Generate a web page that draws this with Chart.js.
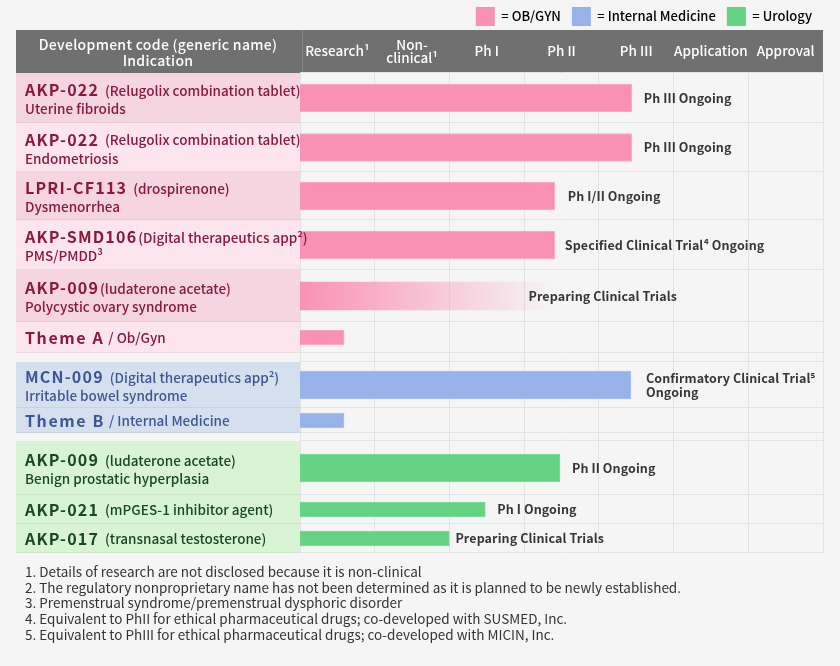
<!DOCTYPE html>
<html>
<head>
<meta charset="utf-8">
<script src="https://cdn.jsdelivr.net/npm/chart.js@4.4.1/dist/chart.umd.min.js"></script>
<style>
  html, body { margin: 0; padding: 0; background: #f5f5f5; }
</style>
</head>
<body>
<canvas id="pipeline-chart" width="840" height="666"></canvas>
<script>
/* ===================================
   DATA
   =================================== */
const stages = ['Research¹', ['Non-', 'clinical¹'], 'Ph I', 'Ph II', 'Ph III', 'Application', 'Approval'];
const areaNames = ['OB/GYN', 'Internal Medicine', 'Urology'];

const codes = ['AKP-022', 'AKP-022', 'LPRI-CF113', 'AKP-SMD106', 'AKP-009', 'Theme A',
  'MCN-009', 'Theme B', 'AKP-009', 'AKP-021', 'AKP-017'];
const genericNames = ['(Relugolix combination tablet)', '(Relugolix combination tablet)', '(drospirenone)',
  '(Digital therapeutics app²)', '(ludaterone acetate)', '/ Ob/Gyn',
  '(Digital therapeutics app²)', '/ Internal Medicine',
  '(ludaterone acetate)', '(mPGES-1 inhibitor agent)', '(transnasal testosterone)'];
const indications = ['Uterine fibroids', 'Endometriosis', 'Dysmenorrhea', 'PMS/PMDD³', 'Polycystic ovary syndrome', '',
  'Irritable bowel syndrome', '', 'Benign prostatic hyperplasia', '', ''];
const areas = ['OB/GYN', 'OB/GYN', 'OB/GYN', 'OB/GYN', 'OB/GYN', 'OB/GYN',
  'Internal Medicine', 'Internal Medicine', 'Urology', 'Urology', 'Urology'];
// progress measured in stage columns (0 = start of Research, 7 = end of Approval)
const progress = [4.44, 4.44, 3.41, 3.41, 3.38, 0.59, 4.43, 0.59, 3.48, 2.48, 2.0];
const statuses = ['Ph III Ongoing', 'Ph III Ongoing', 'Ph I/II Ongoing', 'Specified Clinical Trial⁴ Ongoing',
  'Preparing Clinical Trials', '', 'Confirmatory Clinical Trial⁵\nOngoing', '',
  'Ph II Ongoing', 'Ph I Ongoing', 'Preparing Clinical Trials'];
const footnotes = [
  '1. Details of research are not disclosed because it is non-clinical',
  '2. The regulatory nonproprietary name has not been determined as it is planned to be newly established.',
  '3. Premenstrual syndrome/premenstrual dysphoric disorder',
  '4. Equivalent to PhII for ethical pharmaceutical drugs; co-developed with SUSMED, Inc.',
  '5. Equivalent to PhIII for ethical pharmaceutical drugs; co-developed with MICIN, Inc.'
];

/* ===================================
   LAYOUT / STYLE
   =================================== */
const FONT = '"Noto Sans CJK JP", "Noto Sans", sans-serif';
const TABLE_LEFT = 16;
const rowHeights = [50, 49, 48, 50, 52, 31, 46, 25, 54, 29, 29];
const gapAfter = [0, 0, 0, 0, 0, 9, 0, 8, 0, 0, 0];
const shortRows = [5, 7, 9, 10];
const fadedRows = [4];
const codeGap = [6, 6, 6, 1, 1, 4, 6, 4, 6, 6, 6];
const statusGap = [12, 12, 13, 10, -24, 0, 15, 0, 12, 12, 6];

const areaColors = { 'OB/GYN': '#f991b4', 'Internal Medicine': '#96b2e8', 'Urology': '#66d283' };
const areaEdges = { 'OB/GYN': '#f9aec7', 'Internal Medicine': '#adc3ee', 'Urology': '#84dc9b' };
const areaText = { 'OB/GYN': '#8a1740', 'Internal Medicine': '#3d5694', 'Urology': '#17481f' };
const panelColors = {
  'OB/GYN': ['#f5d5df', '#fce5ec'],
  'Internal Medicine': ['#d4e0ee', '#d4e0ee'],
  'Urology': ['#d9f4d4', '#d9f4d4']
};

/* ===================================
   ROW SCALE (category scale with uneven row heights)
   =================================== */
class RowScale extends Chart.CategoryScale {
  getRowBounds(index) {
    const total = rowHeights.reduce((s, h, i) => s + h + gapAfter[i], 0) - gapAfter[gapAfter.length - 1];
    let acc = 0;
    for (let i = 0; i < index; i++) acc += rowHeights[i] + gapAfter[i];
    const k = (this.bottom - this.top) / total;
    return { top: this.top + acc * k, bottom: this.top + (acc + rowHeights[index]) * k };
  }
  getPixelForValue(value) {
    if (typeof value !== 'number') value = this.parse(value);
    if (value === null || isNaN(value)) return NaN;
    const b = this.getRowBounds(Math.round(value));
    return (b.top + b.bottom) / 2;
  }
}
RowScale.id = 'rows';
RowScale.defaults = Chart.CategoryScale.defaults;
Chart.register(RowScale);

function hexToRgba(hex, a) {
  const n = parseInt(hex.slice(1), 16);
  return `rgba(${(n >> 16) & 255}, ${(n >> 8) & 255}, ${n & 255}, ${a})`;
}

function barFill(c) {
  const i = c.dataIndex;
  const base = areaColors[areas[i]];
  const xs = c.chart.scales.x;
  if (!fadedRows.includes(i) || !xs) return base;
  const g = c.chart.ctx.createLinearGradient(xs.getPixelForValue(0), 0, xs.getPixelForValue(progress[i]), 0);
  g.addColorStop(0, hexToRgba(base, 1));
  g.addColorStop(1, hexToRgba(base, 0));
  return g;
}

/* ===================================
   TABLE PLUGIN (header, row panels, labels)
   =================================== */
const pipelineTable = {
  id: 'pipelineTable',
  beforeDraw(chart) {
    const { ctx, chartArea: a, scales } = chart;
    const head = scales.stage;
    const rows = scales.y;
    ctx.save();
    ctx.fillStyle = '#f5f5f5';
    ctx.fillRect(0, 0, chart.width, chart.height);

    // header band
    ctx.fillStyle = '#707070';
    ctx.fillRect(TABLE_LEFT, head.top, a.right - TABLE_LEFT, head.bottom - head.top);
    ctx.strokeStyle = '#878787';
    ctx.lineWidth = 1;
    ctx.beginPath();
    ctx.moveTo(a.left + 2.5, head.top);
    ctx.lineTo(a.left + 2.5, head.bottom);
    ctx.stroke();
    ctx.fillStyle = '#fff';
    ctx.font = `500 14px ${FONT}`;
    ctx.letterSpacing = '0.3px';
    ctx.textAlign = 'center';
    ctx.textBaseline = 'middle';
    const hx = (TABLE_LEFT + a.left) / 2;
    const hy = (head.top + head.bottom) / 2;
    ctx.fillText('Development code (generic name)', hx, hy - 7);
    ctx.fillText('Indication', hx, hy + 9);
    ctx.letterSpacing = '0px';

    // row panels + separators
    let k = 0;
    codes.forEach((_, i) => {
      const b = rows.getRowBounds(i);
      if (i > 0 && areas[i] !== areas[i - 1]) k = 0;
      ctx.fillStyle = panelColors[areas[i]][k % 2];
      k++;
      ctx.fillRect(TABLE_LEFT, b.top, a.left - TABLE_LEFT, b.bottom - b.top);
      ctx.strokeStyle = 'rgba(0,0,0,0.055)';
      ctx.beginPath();
      ctx.moveTo(TABLE_LEFT, Math.round(b.bottom) - 0.5);
      ctx.lineTo(a.left, Math.round(b.bottom) - 0.5);
      ctx.stroke();
      ctx.strokeStyle = '#e3e3e3';
      ctx.beginPath();
      [b.top, b.bottom].forEach(y => {
        ctx.moveTo(a.left, Math.round(y) - 0.5);
        ctx.lineTo(a.right, Math.round(y) - 0.5);
      });
      ctx.stroke();
    });
    ctx.restore();
  },
  afterDatasetsDraw(chart) {
    const { ctx, scales } = chart;
    const rows = scales.y;
    const xs = scales.x;
    ctx.save();
    ctx.textAlign = 'left';
    ctx.textBaseline = 'middle';
    codes.forEach((code, i) => {
      const b = rows.getRowBounds(i);
      const cy = (b.top + b.bottom) / 2;
      const twoLine = indications[i] !== '';
      const y1 = twoLine ? cy - 8 : cy;
      const theme = code.startsWith('Theme');
      ctx.fillStyle = areaText[areas[i]];
      ctx.font = `bold 16px ${FONT}`;
      ctx.letterSpacing = theme ? '1.6px' : '1.2px';
      ctx.fillText(code, 25, y1);
      const w = ctx.measureText(code).width;
      ctx.letterSpacing = '0px';
      ctx.font = `500 13.5px ${FONT}`;
      ctx.fillText(genericNames[i], 25 + w + codeGap[i], y1 + 0.5);
      if (twoLine) ctx.fillText(indications[i], 25, cy + 11);

      // status text to the right of the bar
      if (statuses[i]) {
        ctx.fillStyle = '#363636';
        ctx.font = `bold 12.5px ${FONT}`;
        ctx.letterSpacing = '0.1px';
        const lines = statuses[i].split('\n');
        const sx = xs.getPixelForValue(progress[i]) + statusGap[i];
        lines.forEach((t, j) => ctx.fillText(t, sx, cy + (j - (lines.length - 1) / 2) * 14));
        ctx.letterSpacing = '0px';
      }
    });

    // footnotes
    ctx.fillStyle = '#333';
    ctx.font = `13.5px ${FONT}`;
    footnotes.forEach((t, j) => ctx.fillText(t, 25, 572 + j * 15.6));
    ctx.restore();
  }
};

/* ===================================
   CHART
   =================================== */
const isShort = i => shortRows.includes(i);

const pipelineChart = new Chart(document.getElementById('pipeline-chart').getContext('2d'), {
  type: 'bar',
  plugins: [pipelineTable],
  data: {
    labels: codes,
    datasets: [
      {
        label: 'Programs',
        data: progress.map((v, i) => (isShort(i) ? null : v)),
        barThickness: 28,
        grouped: false,
        backgroundColor: barFill,
        borderColor: c => areaEdges[areas[c.dataIndex]],
        borderWidth: c => (fadedRows.includes(c.dataIndex) ? 0 : 1),
        borderSkipped: 'start'
      },
      {
        label: 'Themes',
        data: progress.map((v, i) => (isShort(i) ? v : null)),
        barThickness: 15,
        grouped: false,
        backgroundColor: barFill,
        borderColor: c => areaEdges[areas[c.dataIndex]],
        borderWidth: 1,
        borderSkipped: 'start'
      }
    ]
  },
  options: {
    indexAxis: 'y',
    responsive: false,
    animation: false,
    events: [],
    layout: { padding: { left: 300, right: 17, top: -4, bottom: 113 } },
    plugins: {
      tooltip: { enabled: false },
      legend: {
        position: 'top',
        align: 'end',
        maxHeight: 34,
        labels: {
          boxWidth: 19,
          boxHeight: 19,
          padding: 11,
          color: '#333',
          font: { family: FONT, size: 13, weight: 500 },
          generateLabels: () => areaNames.map(n => ({
            text: '= ' + n,
            fillStyle: areaColors[n],
            strokeStyle: areaColors[n],
            lineWidth: 0,
            hidden: false
          }))
        }
      }
    },
    scales: {
      x: { type: 'linear', min: 0, max: 7, display: false },
      stage: {
        type: 'category',
        axis: 'x',
        position: 'top',
        labels: stages,
        offset: true,
        grid: { offset: true, color: '#e3e3e3', drawTicks: false },
        border: { display: false },
        ticks: {
          color: '#fff',
          padding: 15,
          maxRotation: 0,
          autoSkip: false,
          crossAlign: 'center',
          font: { family: FONT, size: 13.5, weight: 500, lineHeight: 1.0 }
        },
        afterFit: s => { s.height = 43; }
      },
      y: { type: 'rows', display: false }
    }
  }
});
</script>
</body>
</html>
